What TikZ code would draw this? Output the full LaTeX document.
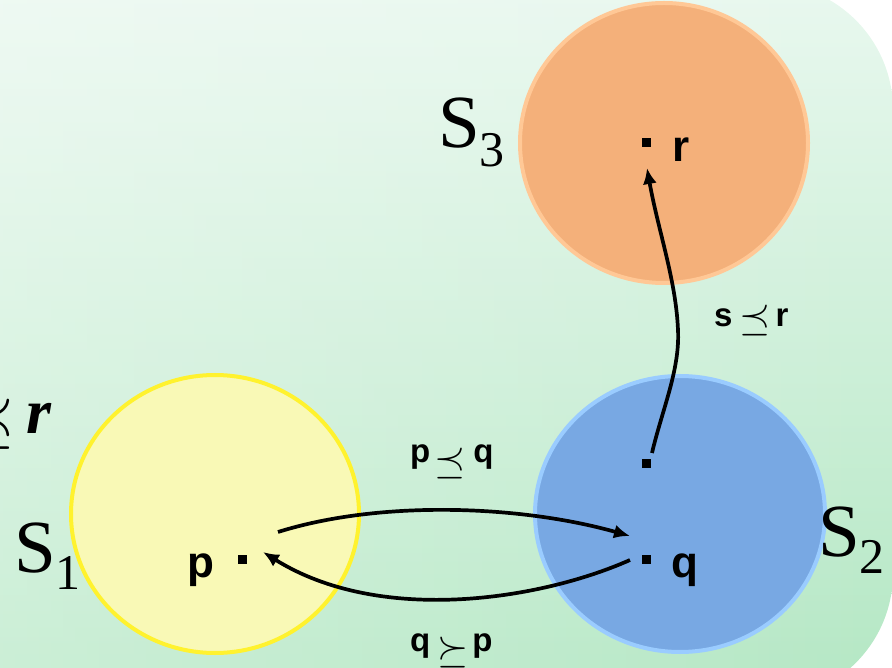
\documentclass[tikz,border=0pt]{standalone}
\usepackage{fontspec}
\setmainfont{Liberation Serif}
\newfontfamily\lsans{Liberation Sans}
\usetikzlibrary{arrows.meta,fadings}
\definecolor{bgtop}{HTML}{E9F8EF}
\definecolor{bgmid}{HTML}{D4F1DE}
\definecolor{bgbot}{HTML}{B3E7C3}
\definecolor{orfill}{HTML}{F4B07A}
\definecolor{ordraw}{HTML}{FFC896}
\definecolor{yefill}{HTML}{F9F9B6}
\definecolor{yedraw}{HTML}{FFF22E}
\definecolor{blfill}{HTML}{78A8E3}
\definecolor{bldraw}{HTML}{9ACCFF}
\tikzfading[name=fadeleft, left color=transparent!70, right color=transparent!100]
\newcommand\mypre[1]{\raisebox{#1}{\scalebox{4}{\normalsize$\preceq$}}}
\newcommand\mysuc[1]{\raisebox{#1}{\scalebox{4}{\normalsize$\succeq$}}}
\tikzset{
  ptlab/.style={font=\lsans\bfseries\fontsize{44}{44}\selectfont, inner sep=0pt, anchor=base west},
  rellab/.style={font=\lsans\bfseries\fontsize{33}{33}\selectfont, inner sep=0pt, anchor=base west},
  setlab/.style={font=\fontsize{75}{75}\selectfont, inner sep=0pt, anchor=base west},
  dotsq/.style={rectangle, fill=black, minimum size=9pt, inner sep=0pt},
  conn/.style={line width=3.7pt, -{Latex[length=16pt,width=14pt]}},
  setshape/.style={line width=4pt}
}
\begin{document}
\begin{tikzpicture}[x=1pt,y=-1pt]
\useasboundingbox (0,0) rectangle (892,668);
% background
\begin{scope}
  \path[clip, rounded corners=127pt] (-300,-17) rectangle (893,700);
  \shade[top color=bgtop, middle color=bgmid, bottom color=bgbot]
    (-300,-17) rectangle (893,700);
  \fill[white, path fading=fadeleft] (-20,-17) rectangle (893,700);
\end{scope}
% sets
\fill[orfill, draw=ordraw, setshape] (664,143) ellipse [x radius=144, y radius=140];
\fill[yefill, draw=yedraw, setshape] (215,514) ellipse [x radius=144, y radius=139];
\fill[blfill, draw=bldraw, setshape] (680,514) ellipse [x radius=145, y radius=138];
% set labels
\node[setlab] (S3) at (438,148) {S\raisebox{-19pt}{\fontsize{50}{50}\selectfont 3}};
\node[setlab] (S1) at (14,572) {S\raisebox{-17pt}{\fontsize{50}{50}\selectfont 1}};
\node[setlab] (S2) at (818,556) {S\raisebox{-17pt}{\fontsize{50}{50}\selectfont 2}};
% clipped label at left edge
\node[inner sep=0pt, anchor=base east, font=\bfseries\itshape\fontsize{64}{64}\selectfont] (lft) at (52,433)
  {\raisebox{-7pt}{\scalebox{6.5}{\normalsize$\preceq$}}\hspace{12pt}r};
% points
\node[dotsq] (pd) at (242,559) {};
\node[dotsq] (qd) at (646,559) {};
\node[dotsq] (sd) at (646,463) {};
\node[dotsq] (rd) at (646,143) {};
\node[ptlab] (pl) at (187,577) {p};
\node[ptlab] (ql) at (671,577) {q};
\node[ptlab] (rl) at (672,162) {r};
% relation labels
\node[rellab] (pq) at (410,462) {p\hspace{4pt}\mypre{-11.5pt}\hspace{8pt}q};
\node[rellab] (qp) at (410,651) {q\hspace{7pt}\mysuc{-11.5pt}\hspace{4pt}p};
\node[rellab] (sr) at (714,327) {s\hspace{7pt}\mypre{-3pt}\hspace{5pt}r};
% connector end points
\coordinate (a1s) at (278,532);
\coordinate (a1e) at (630,536);
\coordinate (a2s) at (630,560);
\coordinate (a2e) at (263,552);
\coordinate (a3s) at (652,453);
\coordinate (a3m) at (678,330);
\coordinate (a3e) at (647,168);
\draw[conn] (a1s) .. controls (380,500) and (520,505) .. (a1e);
\draw[conn] (a2s) .. controls (540,600) and (380,625) .. (a2e);
\draw[conn] (a3s) .. controls (662,410) and (680,370) .. (a3m)
  .. controls (676,280) and (658,230) .. (a3e);
\end{tikzpicture}
\end{document}
